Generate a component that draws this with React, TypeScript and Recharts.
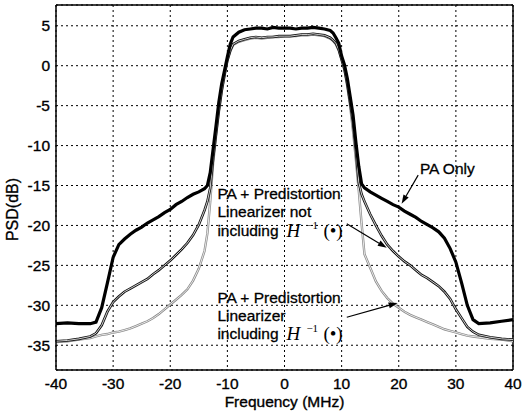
import {
  CartesianGrid,
  Label,
  Line,
  LineChart,
  ReferenceDot,
  ReferenceLine,
  XAxis,
  YAxis,
} from "recharts";

// frequency points (MHz)
const freq = [
  -40, -38, -36, -34, -33, -32, -31, -30, -29, -28, -27, -26,
  -25, -24, -23, -22, -21, -20, -19, -18, -17, -16, -15, -14,
  -13.5, -13, -12.5, -12, -11.5, -11, -10.5, -10, -9.5, -9,
  -8, -7, -6, -5, -4, -3, -2, -1, 0, 1, 2, 3, 4, 5, 6, 7, 8,
  8.5, 9, 9.5, 10, 10.5, 11, 11.5, 12, 12.5, 13, 13.5, 14,
  15, 16, 17, 18, 19, 20, 21, 22, 23, 24, 25, 26, 27,
  28, 29, 30, 31, 32, 33, 34, 36, 38, 40,
];

// PSD (dB)
const paOnly = [
  -32.3, -32.2, -32.3, -32.3, -32.1, -30.3, -27.2, -24.0, -22.4, -21.7, -21.1, -20.6,
  -20.2, -19.7, -19.3, -18.9, -18.4, -18.0, -17.4, -17.0, -16.5, -16.1, -15.8, -15.4,
  -15.0, -13.4, -10.5, -7.6, -4.6, -2.3, -0.6, 1.1, 2.7, 3.6,
  4.2, 4.5, 4.6, 4.7, 4.7, 4.6, 4.8, 4.7, 4.7, 4.7, 4.6, 4.7, 4.7, 4.8, 4.7, 4.6, 4.4,
  4.1, 3.5, 2.8, 1.2, 0.1, -1.6, -3.9, -6.2, -9.6, -12.6, -14.8, -15.3,
  -15.8, -16.2, -16.6, -17.0, -17.4, -17.7, -18.2, -18.6, -19.0, -19.5, -19.9, -20.3, -20.8,
  -21.6, -22.9, -24.6, -27.2, -30.0, -31.8, -32.3, -32.2, -32.0, -31.8,
];

const notIncluding = [
  -34.5, -34.4, -34.2, -33.9, -33.5, -32.5, -30.8, -29.6, -28.9, -28.3, -27.9, -27.5,
  -27.1, -26.7, -26.1, -25.6, -25.0, -24.4, -23.7, -23.0, -22.2, -21.2, -19.9, -18.1,
  -17.0, -15.3, -11.6, -8.6, -5.6, -3.1, -1.1, 0.7, 1.9, 2.7,
  3.1, 3.3, 3.5, 3.6, 3.5, 3.6, 3.6, 3.7, 3.7, 3.7, 3.8, 3.9, 3.9, 4.0, 3.9, 3.8, 3.5,
  3.2, 2.8, 2.0, 0.8, -0.4, -2.3, -4.6, -7.1, -10.6, -14.6, -16.1, -17.0,
  -18.6, -20.0, -21.3, -22.4, -23.2, -23.9, -24.5, -25.0, -25.6, -26.2, -26.6, -27.1, -27.6,
  -28.3, -29.2, -30.5, -31.6, -32.7, -33.3, -33.7, -34.0, -34.2, -34.3,
];

const including = [
  -34.6, -34.5, -34.3, -34.1, -33.9, -33.7, -33.6, -33.4, -33.3, -33.1, -32.9, -32.6,
  -32.3, -32.0, -31.6, -31.1, -30.5, -29.9, -29.3, -28.7, -28.0, -26.9, -25.4, -23.2,
  -21.0, -17.0, -12.2, -8.9, -5.9, -3.3, -1.3, 0.6, 1.8, 2.6,
  3.0, 3.2, 3.4, 3.5, 3.4, 3.5, 3.6, 3.6, 3.7, 3.7, 3.7, 3.8, 3.8, 3.9, 3.8, 3.7, 3.4,
  3.1, 2.7, 1.9, 0.7, -0.6, -2.6, -5.1, -8.2, -11.8, -15.6, -19.8, -23.6,
  -25.3, -27.0, -28.2, -29.1, -29.8, -30.3, -30.8, -31.2, -31.5, -31.8, -32.1, -32.4, -32.7,
  -33.0, -33.2, -33.4, -33.6, -33.8, -33.9, -34.0, -34.2, -34.3, -34.5,
];

const xTicks = [-40, -30, -20, -10, 0, 10, 20, 30, 40];
const yTicks = [-35, -30, -25, -20, -15, -10, -5, 0, 5];
const yMin = -38.1;
const yMax = 7.6;

const data = freq.map((f, i) => ({
  f,
  pa: paOnly[i],
  ni: notIncluding[i],
  inc: including[i],
}));

const sans = "'Liberation Sans', Arial, sans-serif";
const serif = "'Liberation Serif', 'Times New Roman', serif";
const textStyle = { fill: "#000", stroke: "#000", strokeWidth: 0.35, fontFamily: sans };

const Arrow = (props: any) => {
  const { x1, y1, x2, y2 } = props;
  const a = Math.atan2(y2 - y1, x2 - x1);
  const len = 9;
  const w = 3;
  const bx = x2 - len * Math.cos(a);
  const by = y2 - len * Math.sin(a);
  const px = -Math.sin(a) * w;
  const py = Math.cos(a) * w;
  return (
    <g>
      <line x1={x1} y1={y1} x2={bx} y2={by} stroke="#000" strokeWidth={1.2} />
      <polygon
        points={`${x2},${y2} ${bx + px},${by + py} ${bx - px},${by - py}`}
        fill="#000"
      />
    </g>
  );
};

const Annotation = (lines: string[], withH: boolean) => (props: any) => {
  const { cx, cy } = props;
  return (
    <g fontFamily={sans} fontSize={15.5} fill="#000">
      {lines.map((t, i) => (
        <text key={i} x={cx} y={cy + i * 18.3} stroke="#000" strokeWidth={0.3}>
          {t}
        </text>
      ))}
      {withH && (
        <g>
          <text
            x={cx + 69}
            y={cy + 2 * 18.3 + 1}
            fontFamily={serif}
            fontStyle="italic"
            fontSize={19}
          >
            H
          </text>
          <text x={cx + 89} y={cy + 2 * 18.3 - 7} fontFamily={serif} fontSize={11}>
            −1
          </text>
          <text x={cx + 106} y={cy + 2 * 18.3 + 1} fontFamily={serif} fontSize={19}>
            (•)
          </text>
        </g>
      )}
    </g>
  );
};

const App = () => {
  return (
    <div style={{ position: "absolute", left: 0, top: 0, background: "#fff" }}>
      <LineChart
        width={524}
        height={414}
        data={data}
        margin={{ top: 5, right: 11, left: 0, bottom: 0 }}
      >
        <CartesianGrid stroke="#000" strokeDasharray="2 3" strokeWidth={1} />
        <XAxis
          dataKey="f"
          type="number"
          domain={[-40, 40]}
          ticks={xTicks}
          height={44}
          tickLine={false}
          axisLine={{ stroke: "#000", strokeWidth: 1.5 }}
          tick={{ ...textStyle, fontSize: 15.5 }}
        >
          <Label
            value="Frequency (MHz)"
            position="insideBottom"
            offset={7}
            style={{ ...textStyle, fontSize: 15.5 }}
          />
        </XAxis>
        <YAxis
          type="number"
          domain={[yMin, yMax]}
          ticks={yTicks}
          width={56}
          tickSize={4}
          tickLine={false}
          axisLine={{ stroke: "#000", strokeWidth: 1.5 }}
          tick={{ ...textStyle, fontSize: 15.5 }}
        >
          <Label
            value="PSD(dB)"
            angle={-90}
            position="insideLeft"
            offset={12}
            dy={22}
            style={{ ...textStyle, fontSize: 16, textAnchor: "middle" }}
          />
        </YAxis>
        <ReferenceLine y={yMax} stroke="#000" strokeWidth={1.5} />
        <ReferenceLine x={40} stroke="#000" strokeWidth={1.5} />

        <Line dataKey="inc" stroke="#8a8a8a" strokeWidth={2.4} dot={false} isAnimationActive={false} />
        <Line dataKey="inc" stroke="#fff" strokeWidth={0.8} dot={false} isAnimationActive={false} />
        <Line dataKey="ni" stroke="#111" strokeWidth={2.6} dot={false} isAnimationActive={false} />
        <Line dataKey="ni" stroke="#fff" strokeWidth={0.8} dot={false} isAnimationActive={false} />
        <Line dataKey="pa" stroke="#000" strokeWidth={3.2} dot={false} isAnimationActive={false} />

        <ReferenceLine
          segment={[{ x: 23.4, y: -13.7 }, { x: 20.5, y: -17.3 }]}
          shape={Arrow}
        />
        <ReferenceLine
          segment={[{ x: 10.9, y: -19.8 }, { x: 17.9, y: -22.8 }]}
          shape={Arrow}
        />
        <ReferenceLine
          segment={[{ x: 10.9, y: -31.5 }, { x: 19.8, y: -29.7 }]}
          shape={Arrow}
        />
        <ReferenceDot
          x={23.7}
          y={-13.5}
          r={0}
          shape={Annotation(["PA Only"], false)}
        />
        <ReferenceDot
          x={-11.75}
          y={-16.7}
          r={0}
          shape={Annotation(["PA + Predistortion", "Linearizer not", "including"], true)}
        />
        <ReferenceDot
          x={-11.75}
          y={-29.65}
          r={0}
          shape={Annotation(["PA + Predistortion", "Linearizer", "including"], true)}
        />
      </LineChart>
    </div>
  );
};

export default App;
